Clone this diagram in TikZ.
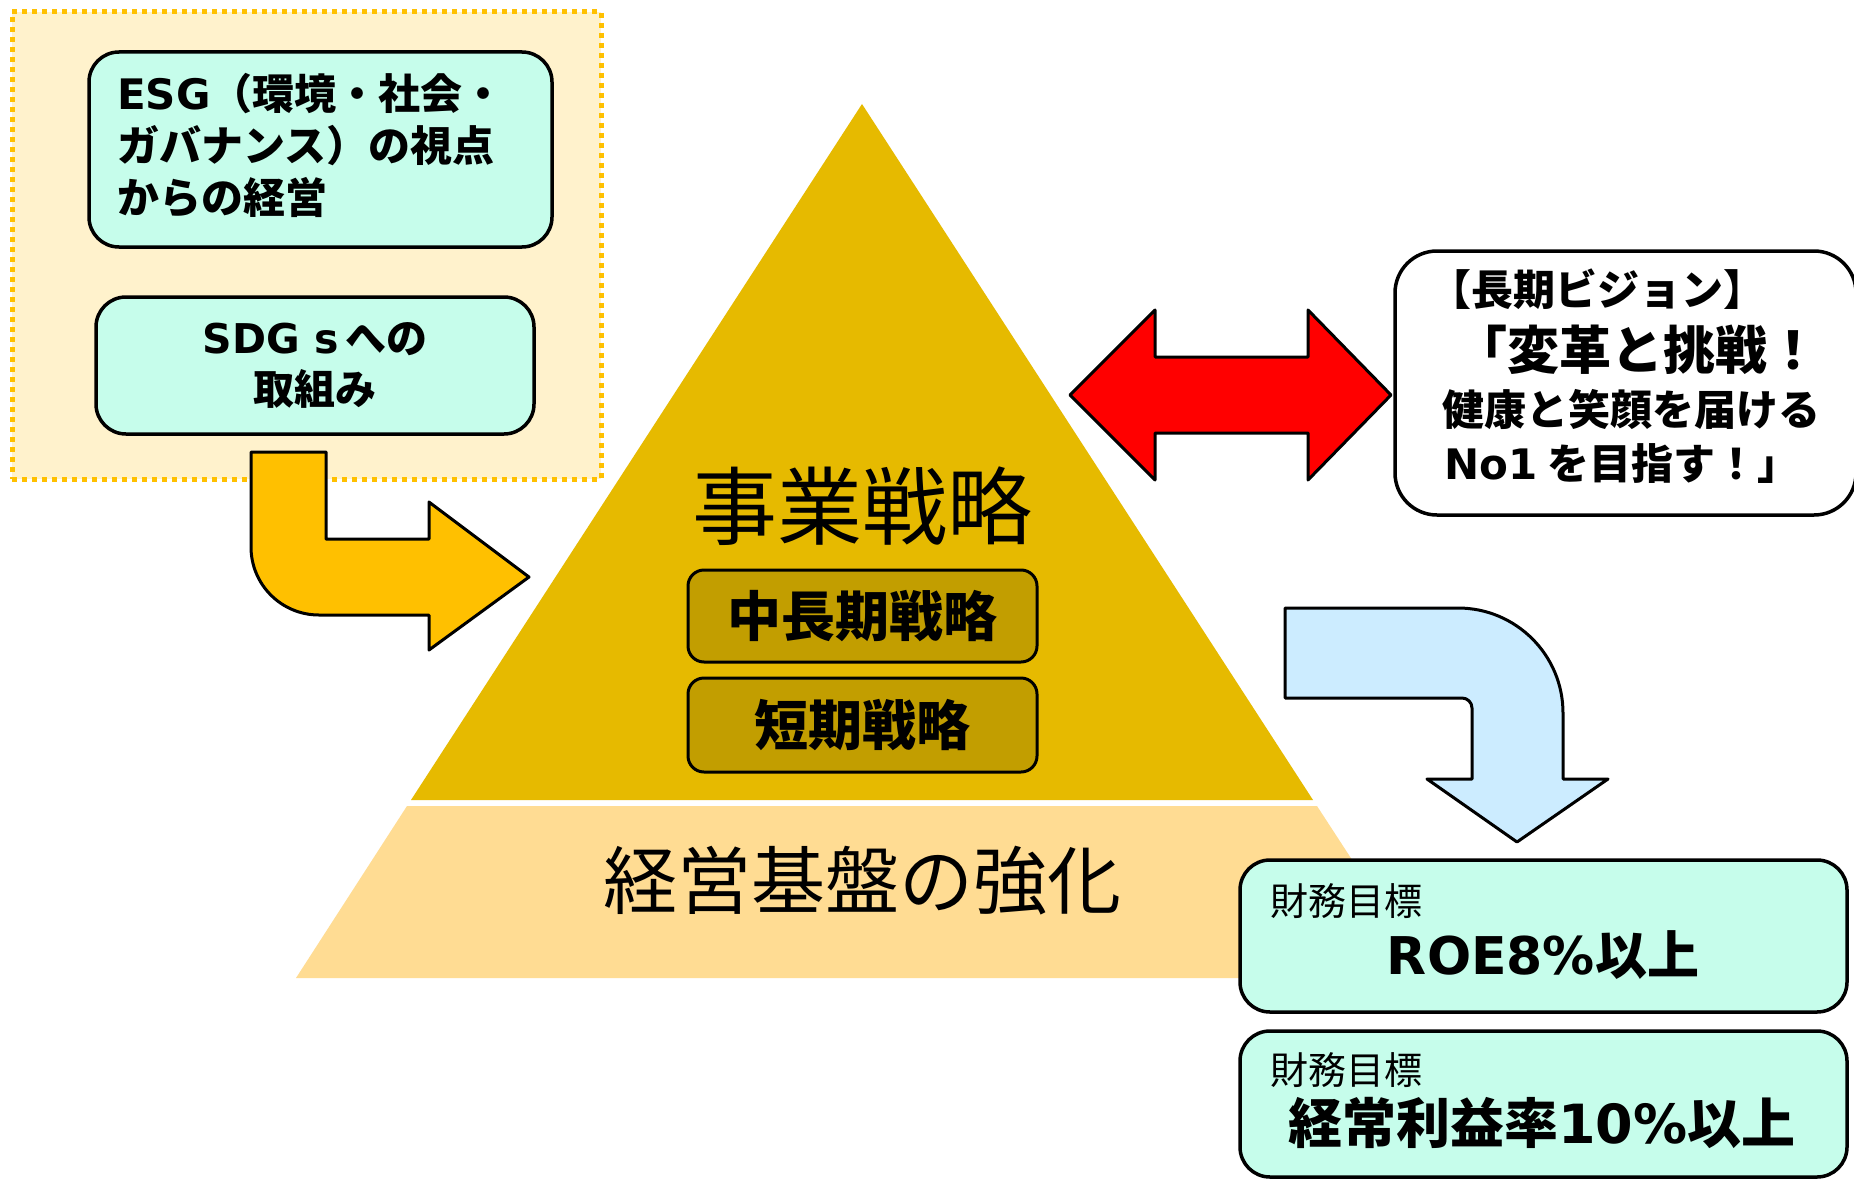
\documentclass[tikz,border=0pt]{standalone}
\usepackage{fontspec}
\setmainfont{Noto Sans CJK JP}
\newfontfamily\latf{DejaVu Sans}
\definecolor{aquac}{HTML}{C6FDEB}
\definecolor{paleyel}{HTML}{FFF2CC}
\definecolor{orng}{HTML}{FFC000}
\definecolor{topgold}{HTML}{E6BA00}
\definecolor{darkgold}{HTML}{C29E00}
\definecolor{trap}{HTML}{FFDC93}
\definecolor{skyb}{HTML}{CCECFF}
\begin{document}
\begin{tikzpicture}[x=1pt,y=-1pt,
  aqua/.style={draw=black, line width=3.5pt, fill=aquac, rounded corners=30pt, inner sep=0pt},
  stratbox/.style={draw=black, line width=3pt, fill=darkgold, rounded corners=16pt, inner sep=0pt,
     minimum width=349pt, font=\fontsize{54}{60}\selectfont\bfseries},
  blockarrow/.style={draw=black, line width=3pt, line join=round},
  bigtxt/.style={inner sep=0pt}]
\useasboundingbox[fill=white] (0,0) rectangle (1854,1180);

% dotted background box
\node[draw=orng, fill=paleyel, line width=5pt, dash pattern=on 5pt off 5pt,
      minimum width=589pt, minimum height=467pt, inner sep=0pt] (bg) at (306.5,245.5) {};

% ESG box
\node[aqua, minimum width=463pt, minimum height=195pt] (esg) at (320.5,149.5) {};
\node[bigtxt, anchor=west, align=left, font=\fontsize{42}{52}\selectfont\bfseries] (esgt) at (117,145)
  {{\latf ESG}（環境・社会・\\ガバナンス）の視点\\からの経営};

% SDGs box
\node[aqua, minimum width=438pt, minimum height=137pt, align=center,
      font=\fontsize{41}{51}\selectfont\bfseries] (sdg) at (315,365.5)
  {{\latf SDG s}\,への\\取組み};

% pyramid
\fill[topgold] (862,104) -- (1313,800) -- (411,800) -- cycle;
\fill[trap] (407,806) -- (1317,806) -- (1429,978) -- (296,978) -- cycle;
\node[bigtxt, font=\fontsize{85}{90}\selectfont] (biz) at (862,506) {事業戦略};
\node[stratbox, minimum height=92pt] (mid) at (862.5,616) {中長期戦略};
\node[stratbox, minimum height=94pt] (short) at (862.5,725) {短期戦略};
\node[bigtxt, font=\fontsize{74}{80}\selectfont] (base) at (862,881) {経営基盤の強化};

% yellow bent arrow
\draw[blockarrow, fill=orng] (251,452) -- (326,452) -- (326,539) -- (429,539) -- (429,502)
  -- (529,577) -- (429,650) -- (429,615) -- (319,615)
  .. controls (281.4,615) and (251,584.6) .. (251,547) -- cycle;

% red double arrow
\draw[blockarrow, fill=red] (1070,395) -- (1155,310) -- (1155,357) -- (1308,357) -- (1308,310)
  -- (1391,395) -- (1308,480) -- (1308,433) -- (1155,433) -- (1155,480) -- cycle;

% vision box
\node[draw=black, line width=3.5pt, fill=white, rounded corners=42pt,
      minimum width=461pt, minimum height=264pt, inner sep=0pt] (vision) at (1625.5,383) {};
\node[bigtxt, font=\fontsize{42}{44}\selectfont\bfseries] (v1) at (1597,289) {【長期ビジョン】};
\node[bigtxt, font=\fontsize{52}{54}\selectfont\bfseries] (v2) at (1637,350) {「変革と挑戦！};
\node[bigtxt, font=\fontsize{42}{44}\selectfont\bfseries] (v3) at (1631,410) {健康と笑顔を届ける};
\node[bigtxt, font=\fontsize{42}{44}\selectfont\bfseries] (v4) at (1622,464) {{\latf No1} を目指す！」};

% blue bent arrow
\draw[blockarrow, fill=skyb] (1285,608) -- (1458,608)
  .. controls (1516,608) and (1563,655) .. (1563,713) -- (1563,779) -- (1608,779)
  -- (1517,842) -- (1427,779) -- (1472,779) -- (1472,708)
  .. controls (1472,702.5) and (1467.5,698) .. (1462,698) -- (1285,698) -- cycle;

% financial targets
\node[aqua, minimum width=607pt, minimum height=152pt] (roe) at (1543.5,936) {};
\node[bigtxt, anchor=west, font=\fontsize{38}{40}\selectfont] (roel) at (1270,901) {財務目標};
\node[bigtxt, font=\fontsize{52}{56}\selectfont\bfseries] (roet) at (1543,955) {{\latf ROE8\%}以上};

\node[aqua, minimum width=607pt, minimum height=146pt] (ord) at (1543.5,1104) {};
\node[bigtxt, anchor=west, font=\fontsize{38}{40}\selectfont] (ordl) at (1270,1070) {財務目標};
\node[bigtxt, font=\fontsize{54}{58}\selectfont\bfseries] (ordt) at (1542,1123) {経常利益率{\latf 10\%}以上};
\end{tikzpicture}
\end{document}
